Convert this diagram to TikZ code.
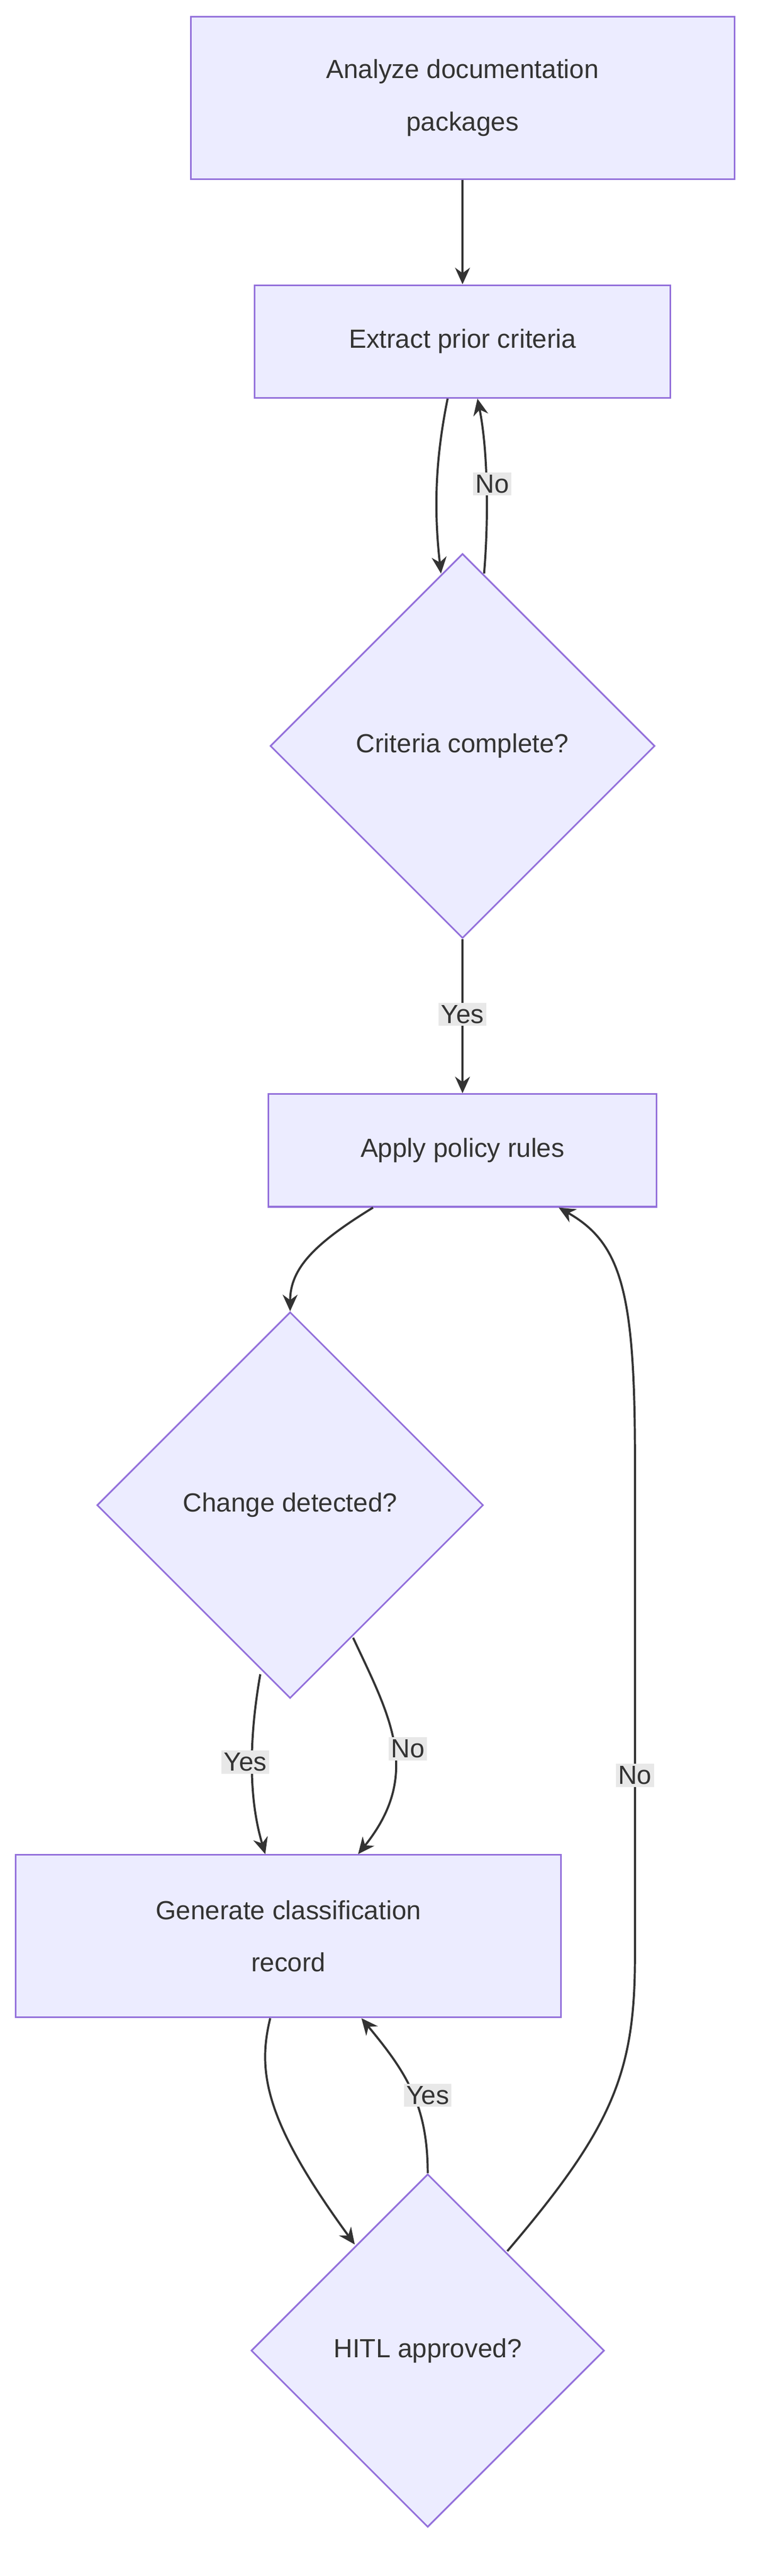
\documentclass[tikz,border=0pt]{standalone}
\usepackage{fontspec}
\setmainfont{Liberation Sans}
\usetikzlibrary{shapes.geometric,arrows.meta}
\definecolor{boxfill}{HTML}{ECECFF}
\definecolor{boxline}{HTML}{9370DB}
\definecolor{edgeline}{HTML}{333333}
\definecolor{lblfill}{HTML}{E8E8E8}
\tikzset{
  stage/.style={draw=boxline, fill=boxfill, line width=2.8pt, align=center, text=edgeline, font=\fontsize{45}{90}\selectfont},
  test/.style={stage, diamond, minimum size=#1, inner sep=0pt},
  flow/.style={draw=edgeline, line width=3.6pt, -{Stealth[length=1cm,width=0.9cm]}},
  tag/.style={fill=lblfill, text=edgeline, font=\fontsize{45}{54}\selectfont, inner sep=4pt}
}
\begin{document}
\begin{tikzpicture}[x=0.1cm, y=-0.1cm]
\useasboundingbox (0,0) rectangle (460,1554);

\node[stage, minimum width=32.8cm, minimum height=9.8cm] (analyze) at (279,59) {Analyze documentation\\packages};
\node[stage, minimum width=25.1cm, minimum height=6.8cm] (extract) at (279,206) {Extract prior criteria};
\node[test=23.2cm] (complete) at (279,450) {Criteria complete?};
\node[stage, minimum width=23.4cm, minimum height=6.8cm] (apply) at (279,694) {Apply policy rules};
\node[test=23.3cm] (change) at (175,908) {Change detected?};
\node[stage, minimum width=32.9cm, minimum height=9.8cm] (generate) at (174,1168) {Generate classification\\record};
\node[test=21.3cm] (hitl) at (258,1418) {HITL approved?};

% edges
\draw[flow] (analyze) -- (extract);
\draw[flow] ([xshift=-0.9cm]extract.south) .. controls (262,280) and (262,310) .. (266,346);
\draw[flow] (292,346) .. controls (295,310) and (294,270) .. ([xshift=0.9cm]extract.south);
\node[tag] (no1) at (297,292) {No};
\draw[flow] (complete) -- (apply);
\node[tag] (yes1) at (279,612) {Yes};
\draw[flow] ([xshift=-5.4cm]apply.south) .. controls (190,750) and (175,765) .. (change.north);
\draw[flow] (157,1010) .. controls (150,1050) and (150,1085) .. ([xshift=-1.4cm]generate.north);
\node[tag] (yes2) at (148,1063) {Yes};
\draw[flow] (213,988) .. controls (235,1035) and (255,1070) .. ([xshift=4.2cm]generate.north);
\node[tag] (no2) at (246,1055) {No};
\draw[flow] ([xshift=-1.1cm]generate.south) .. controls (155,1250) and (160,1280) .. (214,1354);
\draw[flow] (hitl.north) .. controls (258,1270) and (245,1250) .. ([xshift=4.4cm]generate.south);
\node[tag] (yes3) at (258,1264) {Yes};
\draw[flow] (306,1358) .. controls (370,1283) and (383,1250) .. (383,1180) -- (383,880) .. controls (383,780) and (375,750) .. ([xshift=5.8cm]apply.south);
\node[tag] (no3) at (383,1071) {No};
\end{tikzpicture}
\end{document}
